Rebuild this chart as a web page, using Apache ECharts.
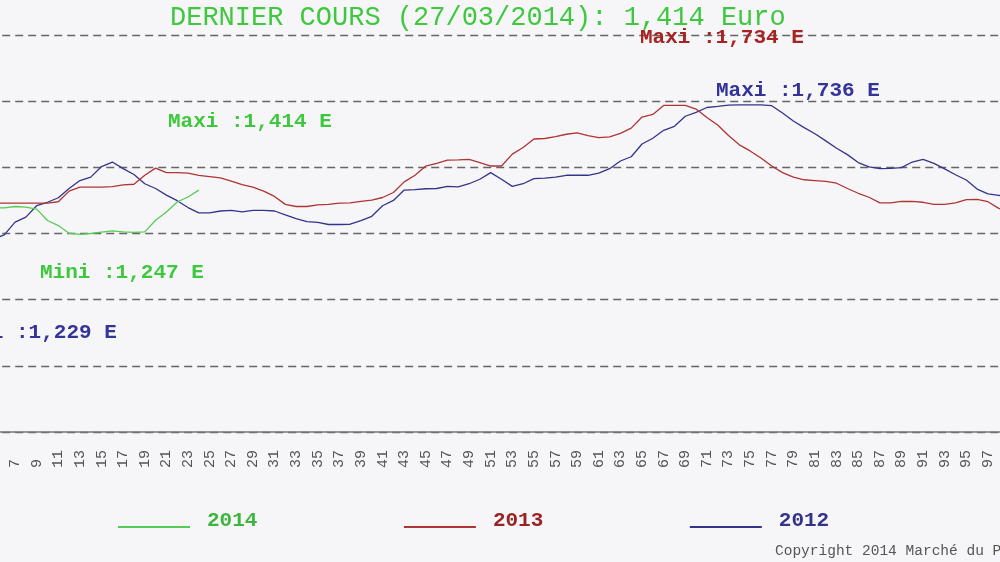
<!DOCTYPE html>
<html>
<head>
<meta charset="utf-8">
<script src="https://cdn.jsdelivr.net/npm/echarts@6/dist/echarts.min.js"></script>
<style>html,body{margin:0;padding:0;background:#f6f6f8;}#c{width:1000px;height:562px;}</style>
</head>
<body>
<div id="c"></div>
<script>
var sessions = [];
for (var i = 1; i <= 104; i++) sessions.push(String(i));

var values2012 = [1.26,1.255,1.245,1.235,1.229,1.245,1.293,1.312,1.355,1.368,1.385,1.42,1.45,1.463,1.503,1.52,1.495,1.473,1.438,1.42,1.395,1.374,1.348,1.328,1.328,1.335,1.337,1.332,1.337,1.337,1.335,1.32,1.306,1.295,1.292,1.284,1.284,1.285,1.299,1.315,1.355,1.375,1.414,1.416,1.419,1.42,1.428,1.426,1.438,1.455,1.48,1.455,1.428,1.438,1.457,1.459,1.463,1.47,1.47,1.47,1.478,1.495,1.524,1.54,1.588,1.61,1.64,1.655,1.693,1.708,1.726,1.73,1.735,1.736,1.736,1.736,1.733,1.705,1.675,1.65,1.627,1.6,1.572,1.548,1.518,1.502,1.495,1.496,1.499,1.52,1.53,1.515,1.494,1.472,1.452,1.418,1.40,1.394,1.39,1.38,1.37,1.36,1.35,1.35];

var values2013 = [1.36,1.36,1.36,1.365,1.365,1.365,1.365,1.365,1.365,1.365,1.37,1.41,1.425,1.425,1.425,1.427,1.434,1.436,1.47,1.497,1.48,1.48,1.478,1.47,1.465,1.46,1.448,1.435,1.425,1.41,1.39,1.36,1.352,1.352,1.358,1.36,1.365,1.366,1.371,1.376,1.386,1.405,1.445,1.47,1.505,1.515,1.527,1.528,1.53,1.518,1.505,1.505,1.55,1.575,1.607,1.609,1.616,1.625,1.63,1.62,1.612,1.615,1.628,1.648,1.69,1.70,1.734,1.734,1.734,1.72,1.688,1.66,1.62,1.585,1.562,1.535,1.505,1.48,1.463,1.453,1.45,1.447,1.44,1.42,1.402,1.387,1.366,1.366,1.371,1.371,1.368,1.36,1.36,1.366,1.378,1.379,1.37,1.345,1.33,1.32,1.31,1.30,1.30,1.30];

var values2014 = [1.34,1.34,1.345,1.345,1.347,1.347,1.352,1.35,1.342,1.299,1.28,1.251,1.247,1.25,1.255,1.26,1.256,1.254,1.256,1.30,1.331,1.369,1.388,1.414];

var yTicks = {min: 0.5, max: 2.0, interval: 0.25};

var titleText = 'DERNIER COURS (27/03/2014): 1,414 Euro';
var notes = [
  {text: 'Maxi :1,414 E', color: '#3ec83e', left: 168, top: 111},
  {text: 'Maxi :1,734 E', color: '#a82222', left: 640, top: 27},
  {text: 'Maxi :1,736 E', color: '#333399', left: 716, top: 80},
  {text: 'Mini :1,247 E', color: '#3ec83e', left: 40, top: 262},
  {text: 'Mini :1,229 E', color: '#333399', left: -47, top: 322}
];
var copyrightText = 'Copyright 2014 Marché du Porc Breton';

var chart = echarts.init(document.getElementById('c'));
var mono = '"Liberation Mono", "DejaVu Sans Mono", monospace';

var graphics = notes.map(function (n) {
  return {
    type: 'text', left: n.left, top: n.top, z: 10,
    style: {text: n.text, fill: n.color, font: 'bold 21px ' + mono}
  };
});
graphics.push({
  type: 'text', left: 775, top: 544, z: 10,
  style: {text: copyrightText, fill: '#555555', font: '14.5px ' + mono}
});

// legend icon: a thin line sitting at the bottom of the icon box (tiny corner anchor keeps the box height)
var lineIcon = 'path://M0,0 L0.05,0 L0.05,0.05 Z M0,13 L72,13 L72,15 L0,15 Z';

chart.setOption({
  animation: false,
  backgroundColor: '#f6f6f8',
  title: {
    text: titleText, left: 170, top: 4, padding: 0,
    textStyle: {color: '#3ec83e', fontFamily: mono, fontSize: 27, fontWeight: 'normal'}
  },
  legend: {
    left: 118, top: 510, padding: 0,
    itemWidth: 72, itemHeight: 15, itemGap: 146.5, icon: lineIcon,
    textStyle: {fontFamily: mono, fontSize: 21, fontWeight: 'bold', padding: [0, 0, 0, 12]},
    data: [
      {name: '2014', textStyle: {color: '#3eb53e'}},
      {name: '2013', textStyle: {color: '#992222'}},
      {name: '2012', textStyle: {color: '#333388'}}
    ]
  },
  grid: {left: -49.8, right: -63.6, top: 35, bottom: 130, containLabel: false, outerBoundsMode: 'none'},
  xAxis: {
    type: 'category', data: sessions, boundaryGap: false,
    axisLine: {lineStyle: {color: '#777777', width: 1.5}},
    axisTick: {show: false},
    axisLabel: {interval: 1, rotate: 90, align: 'left', margin: 36, color: '#555555', fontFamily: mono, fontSize: 15},
    splitLine: {show: false}
  },
  yAxis: {
    type: 'value', min: yTicks.min, max: yTicks.max, interval: yTicks.interval,
    axisLine: {show: false}, axisTick: {show: false}, axisLabel: {show: false},
    splitLine: {lineStyle: {color: '#666666', width: 1.3, type: [8, 5]}}
  },
  series: [
    {name: '2012', type: 'line', data: values2012, showSymbol: false, symbol: 'none',
     itemStyle: {color: '#34348a'}, lineStyle: {color: '#34348a', width: 1.3}},
    {name: '2013', type: 'line', data: values2013, showSymbol: false, symbol: 'none',
     itemStyle: {color: '#b03434'}, lineStyle: {color: '#b03434', width: 1.3}},
    {name: '2014', type: 'line', data: values2014, showSymbol: false, symbol: 'none',
     itemStyle: {color: '#55cc55'}, lineStyle: {color: '#55cc55', width: 1.3}}
  ],
  graphic: graphics
});
</script>
</body>
</html>
